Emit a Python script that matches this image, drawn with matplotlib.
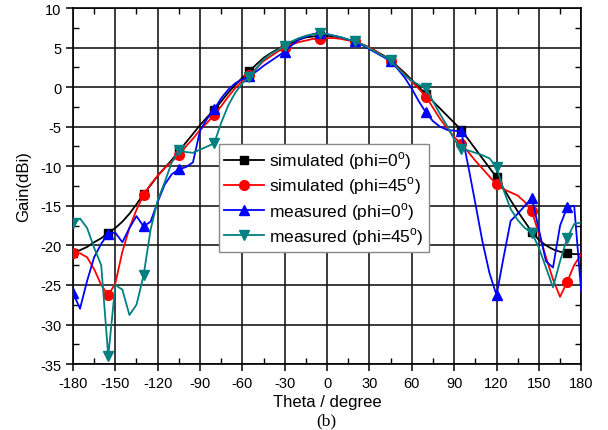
import matplotlib
matplotlib.use("Agg")
import matplotlib.pyplot as plt
import numpy as np
from matplotlib.ticker import MultipleLocator

# theta grid, 5 degree steps
theta = list(range(-180, 181, 5))

sim_phi0 = [
    -21.0, -20.6, -20.2, -19.6, -19.1, -18.4, -17.8, -17.0, -16.0, -14.8,
    -13.5, -12.4, -11.2, -10.2, -9.2, -8.1, -7.0, -5.9, -4.8, -3.8,
    -2.9, -1.8, -0.7, 0.3, 1.2, 2.0, 2.9, 3.7, 4.3, 4.8,
    5.2, 5.6, 6.0, 6.3, 6.4, 6.5, 6.5, 6.4, 6.2, 6.0,
    5.8, 5.4, 5.0, 4.5, 4.0, 3.4, 2.6, 1.8, 0.9, 0.0,
    -0.9, -1.8, -2.7, -3.6, -4.5, -5.4, -6.6, -7.8, -9.0, -10.2,
    -11.4, -12.8, -14.3, -15.7, -17.0, -18.3, -19.3, -20.0, -20.5, -20.8,
    -21.0, -21.1, -21.1,
]

sim_phi45 = [
    -21.0, -21.0, -21.5, -23.0, -25.0, -26.3, -24.8, -20.8, -17.8, -15.5,
    -13.6, -12.3, -11.2, -10.2, -9.4, -8.6, -7.5, -6.5, -5.4, -4.5,
    -3.5, -2.4, -1.2, -0.1, 0.8, 1.5, 2.4, 3.3, 3.9, 4.5,
    5.0, 5.4, 5.7, 5.9, 6.1, 6.1, 6.2, 6.2, 6.1, 5.9,
    5.8, 5.4, 5.0, 4.5, 3.9, 3.3, 2.5, 1.6, 0.7, -0.2,
    -1.2, -2.6, -4.0, -5.2, -6.3, -7.2, -8.2, -9.3, -10.3, -11.3,
    -12.3, -12.9, -13.3, -13.7, -14.5, -15.7, -18.5, -21.5, -24.3, -26.5,
    -24.6, -22.5, -21.1,
]

meas_phi0 = [
    -26.0, -28.0, -24.5, -21.5, -19.8, -18.5, -18.4, -19.6, -17.8, -16.3,
    -17.6, -17.0, -14.5, -12.3, -11.0, -10.4, -10.1, -9.5, -5.5, -4.0,
    -2.8, -1.4, -0.3, 0.5, 1.0, 1.4, 2.0, 2.7, 3.3, 3.9,
    4.5, 5.3, 6.0, 6.4, 6.7, 6.9, 6.7, 6.5, 6.3, 6.0,
    5.8, 5.3, 4.8, 4.3, 3.8, 3.3, 2.3, 1.2, -0.2, -1.8,
    -3.2, -4.3, -5.0, -5.4, -5.5, -5.6, -10.0, -14.7, -19.5, -23.5,
    -26.3, -21.5, -16.9, -16.0, -15.0, -14.0, -18.0, -22.0, -22.8, -17.5,
    -15.2, -15.0, -25.9,
]

meas_phi45 = [
    -17.2, -16.6, -17.8, -20.3, -22.5, -34.0, -25.0, -25.6, -28.8, -27.5,
    -23.8, -18.0, -14.3, -12.0, -9.5, -8.0, -8.2, -8.3, -7.9, -7.5,
    -7.1, -4.5, -2.3, -0.7, 0.5, 1.3, 2.4, 3.5, 4.2, 4.7,
    5.2, 5.8, 6.2, 6.5, 6.7, 6.8, 6.7, 6.5, 6.3, 6.0,
    5.8, 5.4, 4.9, 4.4, 3.9, 3.4, 2.4, 1.5, 0.8, 0.3,
    -0.1, -1.8, -3.4, -4.9, -6.6, -7.8, -8.0, -8.3, -8.6, -9.0,
    -10.1, -13.0, -15.4, -16.8, -17.8, -18.4, -20.3, -22.8, -25.3, -22.0,
    -19.1, -17.3, -17.1,
]

plt.rcParams["font.family"] = ["Liberation Sans", "DejaVu Sans"]
plt.rcParams["axes.unicode_minus"] = False

fig = plt.figure(figsize=(6.08, 4.31), dpi=100)
ax = fig.add_axes([0.12, 0.153, 0.836, 0.826])

deg = r"$^\mathregular{o}$"
series = [
    (sim_phi0, "black", "s", 5.5, f"simulated (phi=0{deg})"),
    (sim_phi45, "#FF0000", "o", 7, f"simulated (phi=45{deg})"),
    (meas_phi0, "#0000FF", "^", 7, f"measured (phi=0{deg})"),
    (meas_phi45, "#008080", "v", 7, f"measured (phi=45{deg})"),
]
for vals, col, mk, ms, lab in series:
    ax.plot(theta, vals, color=col, lw=1.3, marker=mk, ms=ms, markevery=5,
            label=lab, zorder=3)

ax.set_xlim(-180, 180)
ax.set_ylim(-35, 10)
ax.xaxis.set_major_locator(MultipleLocator(30))
ax.xaxis.set_minor_locator(MultipleLocator(15))
ax.yaxis.set_major_locator(MultipleLocator(5))
ax.yaxis.set_minor_locator(MultipleLocator(2.5))
ax.tick_params(which="major", direction="out", length=5, width=1.1, labelsize=10.5)
ax.tick_params(which="minor", direction="in", length=4, width=1.0,
               top=True, right=True)
ax.grid(True, which="major", color="#1a1a1a", lw=1.2, ls="-", zorder=1)
for sp in ax.spines.values():
    sp.set_linewidth(1.2)

ax.set_xlabel("Theta / degree", fontsize=12, va="center")
ax.set_ylabel("Gain(dBi)", fontsize=12, va="center")
ax.xaxis.set_label_coords(0.5, -0.105)
ax.yaxis.set_label_coords(-0.098, 0.5)

leg = ax.legend(loc="upper left", bbox_to_anchor=(0.287, 0.617), fontsize=12.5,
                labelspacing=0.2, handlelength=2.3, handletextpad=0.3,
                borderpad=0.3, borderaxespad=0, fancybox=False, framealpha=1)
leg.get_frame().set_edgecolor("#888888")
leg.get_frame().set_linewidth(1.0)

fig.text(0.537, 0.022, "(b)", ha="center", va="center", fontsize=12.5,
         family=["Liberation Serif", "DejaVu Serif"])

fig.savefig("out.png", dpi=100)
